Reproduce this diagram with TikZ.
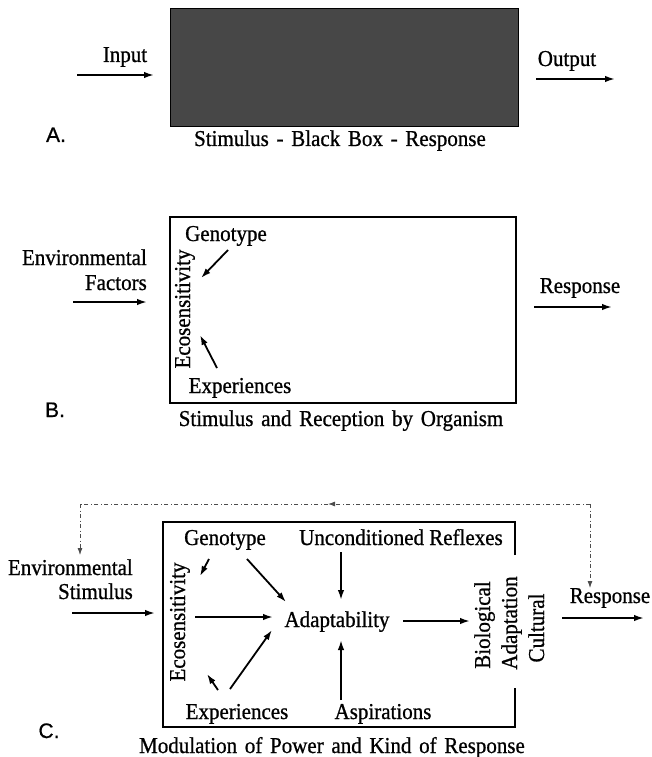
\documentclass[tikz,border=0pt]{standalone}
\usepackage{fontspec}
\setmainfont[FakeBold=0.8,FakeStretch=0.925]{Liberation Serif}
\newfontfamily\lettfont[FakeBold=0.7]{Liberation Sans}
\usetikzlibrary{arrows.meta}
\newcommand\wideword{\spaceskip=0.34em plus 0.1em\relax}
\begin{document}
\begin{tikzpicture}[x=1pt,y=-1pt,
  lbl/.style={font=\fontsize{22.7}{26}\selectfont, inner sep=0pt, anchor=base},
  captxt/.style={font=\fontsize{22.7}{26}\selectfont, inner sep=0pt, anchor=base},
  panel/.style={font=\lettfont\fontsize{21}{25}\selectfont, inner sep=0pt, anchor=base},
  arr/.style={line width=1.8pt, -{Latex[length=10pt,width=6.5pt]}},
  fb/.style={line width=0.8pt, black!70, dash pattern=on 4pt off 2.5pt on 1pt off 2.5pt},
  fbarr/.style={fb, -{Latex[length=7pt,width=5pt]}},
  frame/.style={line width=2.2pt}
]
\useasboundingbox (0,0) rectangle (652,757);

% ---------------- Panel A ----------------
\node[draw=black, line width=1.4pt, fill=black!72, minimum width=348pt, minimum height=118pt,
      anchor=north west, inner sep=0pt] (bbox) at (170,8) {};
\node[lbl] (in) at (125,62) {Input};
\coordinate (inS) at (77,75);
\coordinate (inE) at (154,75);
\draw[arr] (inS) -- (inE);
\node[lbl] (out) at (567,66) {Output};
\coordinate (outS) at (536,79);
\coordinate (outE) at (615,79);
\draw[arr] (outS) -- (outE);
\node[captxt] (capA) at (340,146) {\wideword Stimulus - Black Box - Response};
\node[panel] (la) at (56,142) {A.};

% ---------------- Panel B ----------------
\node[draw=black, line width=2pt, minimum width=346pt, minimum height=186pt,
      anchor=north west, inner sep=0pt] (boxB) at (169,216) {};
\node[lbl, anchor=base east] (envB) at (147,265) {Environmental};
\node[lbl, anchor=base east] (facB) at (147,290) {Factors};
\coordinate (envBS) at (73,302);
\coordinate (envBE) at (147,302);
\draw[arr] (envBS) -- (envBE);
\node[lbl, rotate=90] (ecoB) at (190,309) {Ecosensitivity};
\node[lbl] (genB) at (226,241) {Genotype};
\node[lbl] (expB) at (240,393) {Experiences};
\coordinate (genBS) at (228,250);
\coordinate (genBE) at (201,278);
\draw[arr] (genBS) -- (genBE);
\coordinate (expBS) at (217,368);
\coordinate (expBE) at (200,335);
\draw[arr] (expBS) -- (expBE);
\node[lbl] (resB) at (580,293) {Response};
\coordinate (resBS) at (534,307);
\coordinate (resBE) at (612,307);
\draw[arr] (resBS) -- (resBE);
\node[captxt] (capB) at (341,426) {\wideword Stimulus and Reception by Organism};
\node[panel] (lb) at (55,417) {B.};

% ---------------- Panel C ----------------
\coordinate (cA) at (515,555);
\coordinate (cB) at (515,522);
\coordinate (cC) at (163,522);
\coordinate (cD) at (163,727);
\coordinate (cE) at (515,727);
\coordinate (cF) at (515,688);
\draw[frame] (cA) -- (cB) -- (cC) -- (cD) -- (cE) -- (cF);

\node[lbl, anchor=base east] (envC) at (133,575) {Environmental};
\node[lbl, anchor=base east] (stiC) at (133,599) {Stimulus};
\coordinate (envCS) at (72,613);
\coordinate (envCE) at (155,613);
\draw[arr] (envCS) -- (envCE);

\node[lbl, rotate=90] (ecoC) at (185,622) {Ecosensitivity};
\node[lbl] (genC) at (225,545) {Genotype};
\node[lbl] (uncC) at (401,545) {Unconditioned Reflexes};
\node[lbl] (adaC) at (337,627) {Adaptability};
\node[lbl] (expC) at (237,719) {Experiences};
\node[lbl] (aspC) at (383,719) {Aspirations};
\node[lbl, rotate=90] (bioC) at (490,625) {Biological};
\node[lbl, rotate=90] (adnC) at (517,623) {Adaptation};
\node[lbl, rotate=90] (culC) at (544,628) {Cultural};
\node[lbl] (resC) at (610,603) {Response};

\coordinate (g2eS) at (209,559);  \coordinate (g2eE) at (200,576);
\coordinate (g2aS) at (247,559);  \coordinate (g2aE) at (286,602);
\coordinate (e2aS) at (195,617);  \coordinate (e2aE) at (273,617);
\coordinate (x2aS) at (230,689);  \coordinate (x2aE) at (272,630);
\coordinate (x2eS) at (218,690);  \coordinate (x2eE) at (207,674);
\coordinate (u2aS) at (341,552);  \coordinate (u2aE) at (341,600);
\coordinate (p2aS) at (341,700);  \coordinate (p2aE) at (341,640);
\coordinate (a2bS) at (403,621);  \coordinate (a2bE) at (470,621);
\coordinate (resCS) at (562,618); \coordinate (resCE) at (644,618);
\draw[arr] (g2eS) -- (g2eE);
\draw[arr] (g2aS) -- (g2aE);
\draw[arr] (e2aS) -- (e2aE);
\draw[arr] (x2aS) -- (x2aE);
\draw[arr] (x2eS) -- (x2eE);
\draw[arr] (u2aS) -- (u2aE);
\draw[arr] (p2aS) -- (p2aE);
\draw[arr] (a2bS) -- (a2bE);
\draw[arr] (resCS) -- (resCE);

% feedback loop
\coordinate (fbR) at (590,588);
\coordinate (fbTR) at (590,504);
\coordinate (fbMid) at (328,504);
\coordinate (fbTL) at (80,504);
\coordinate (fbL) at (80,555);
\draw[fbarr] (fbTR) -- (fbR);
\draw[fbarr] (fbTR) -- (fbMid);
\draw[fb] (fbMid) -- (fbTL);
\draw[fbarr] (fbTL) -- (fbL);

\node[captxt] (capC) at (332,753) {\wideword Modulation of Power and Kind of Response};
\node[panel] (lc) at (49,738) {C.};
\end{tikzpicture}
\end{document}
